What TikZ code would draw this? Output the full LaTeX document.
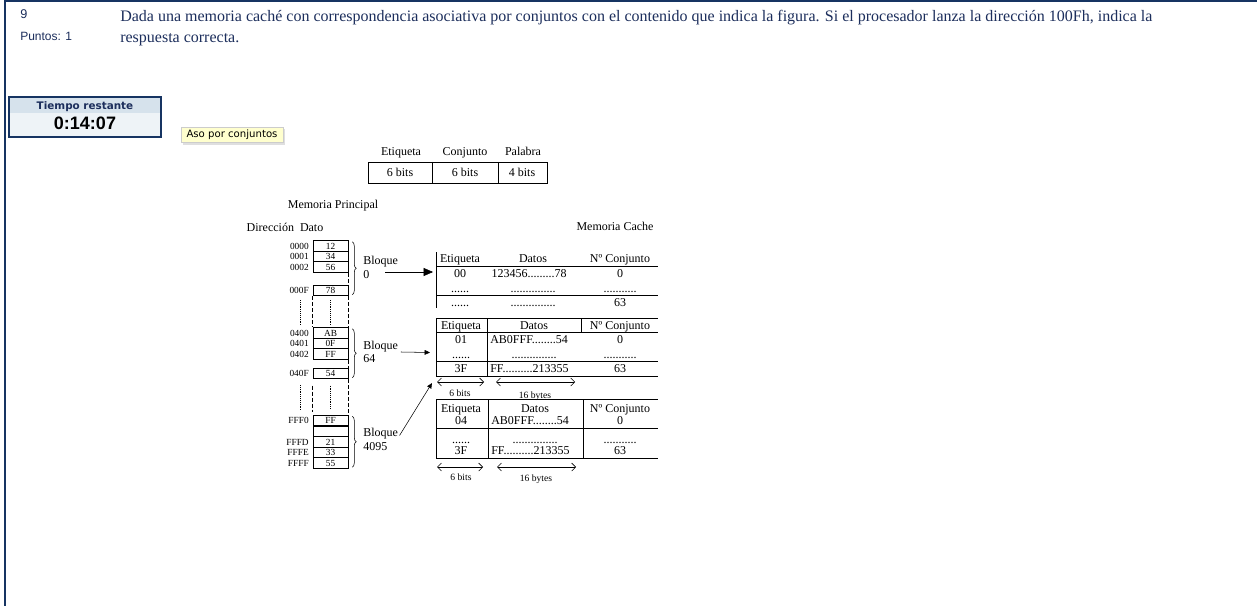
\documentclass[tikz,border=0pt]{standalone}
\usepackage{fontspec}
\setmainfont{Liberation Serif}
\newfontfamily\arialfont{Liberation Sans}
\newfontfamily\verdanafont{DejaVu Sans}
\usetikzlibrary{arrows.meta,decorations.pathreplacing,shadows}
\definecolor{framenavy}{RGB}{22,52,98}
\definecolor{textnavy}{RGB}{28,46,92}
\definecolor{timertop}{RGB}{214,226,236}
\definecolor{timerbot}{RGB}{238,243,247}
\definecolor{tipyellow}{RGB}{255,255,206}
\tikzset{
  diag/.style={inner sep=0pt,text height=7.6pt,text depth=0.2pt,font=\fontsize{9}{10.5}\selectfont},
  tinytxt/.style={inner sep=0pt,text height=6pt,text depth=1pt,font=\fontsize{7.2}{8}\selectfont},
  addr/.style={inner sep=0pt,anchor=east,text height=4.8pt,text depth=0pt,font=\fontsize{7}{8}\selectfont},
  memcell/.style={draw,inner sep=0pt,minimum width=26.25pt,minimum height=7.875pt,text height=4.8pt,text depth=0pt,font=\fontsize{7}{8}\selectfont},
  blocklbl/.style={inner sep=0pt,font=\fontsize{9}{10}\selectfont,anchor=west,align=left},
  gapdash/.style={dash pattern=on 3pt off 1.5pt},
  gapdot/.style={densely dotted},
  widtharrow/.style={{Straight Barb[length=3pt,width=6pt]}-{Straight Barb[length=3pt,width=6pt]},line width=0.4pt},
}
\begin{document}
\begin{tikzpicture}[x=0.75pt,y=-0.75pt]
\fill[white] (0,0) rectangle (1257,606);
\useasboundingbox (0,0) rectangle (1257,606);
% page frame
\draw[framenavy,line width=1.1pt] (5,606) -- (5,1) -- (1257,1);
% question header
\node[anchor=base west,inner sep=0pt,text=textnavy,font=\arialfont\fontsize{9.5}{11}\selectfont] (qnum) at (20,19) {9};
\node[anchor=base west,inner sep=0pt,text=textnavy,font=\arialfont\fontsize{9}{11}\selectfont] (qpts) at (20,41) {Puntos: 1};
\node[anchor=base west,inner sep=0pt,text=textnavy,font=\fontsize{12}{15}\selectfont] (qline1) at (120,22) {Dada una memoria caché con correspondencia asociativa por conjuntos con el contenido que indica la figura. Si el procesador lanza la dirección 100Fh, indica la};
\node[anchor=base west,inner sep=0pt,text=textnavy,font=\fontsize{12}{15}\selectfont] (qline2) at (120,43) {respuesta correcta.};
% timer
\fill[timerbot] (9,97) rectangle (161,137);
\fill[timertop] (9,97) rectangle (161,113);
\draw[framenavy,line width=0.9pt] (9,97) rectangle (161,137);
\node[inner sep=0pt,text=textnavy,font=\verdanafont\bfseries\fontsize{7.8}{9}\selectfont] (tlabel) at (85,106.5) {Tiempo restante};
\node[inner sep=0pt,font=\arialfont\bfseries\fontsize{13.5}{15}\selectfont] (tclock) at (85,123.5) {0:14:07};
% tooltip
\node[draw=black!20,fill=tipyellow,inner sep=0pt,minimum width=76.5pt,minimum height=11.5pt,
  drop shadow={shadow xshift=1.5pt,shadow yshift=-1.5pt,opacity=0.25},
  font=\verdanafont\fontsize{7.6}{9}\selectfont] (tip) at (232,135) {Aso por conjuntos};
% address format
\node[diag] (fetq) at (401,151) {Etiqueta};
\node[diag] (fcon) at (465,151) {Conjunto};
\node[diag] (fpal) at (523,151) {Palabra};
\draw (368,162) rectangle (547,183);
\draw (432,162) -- (432,183);
\draw (498,162) -- (498,183);
\node[diag] (fv1) at (400,172) {6 bits};
\node[diag] (fv2) at (465,172) {6 bits};
\node[diag] (fv3) at (522,172) {4 bits};
% main memory
\node[diag] (mptitle) at (333,204) {Memoria Principal};
\node[diag] (mphead) at (285,227) {Dirección\ \ Dato};
\node[diag] (mctitle) at (615,226) {Memoria Cache};
\foreach \y/\a/\v [count=\i] in {246/0000/12,256.5/0001/34,267/0002/56,290.5/000F/78,
  333/0400/AB,343.5/0401/0F,354/0402/FF,373.5/040F/54,
  420.5/FFF0/FF,431.5/{}/{},442/FFFD/21,452.5/FFFE/33,463/FFFF/55}{
  \node[memcell] (m\i) at (330.5,\y) {\v};
  \node[addr] (a\i) at (309,\y) {\a};
}
\draw[gapdash] (m3.south east) -- (m4.north east);
\draw[gapdash] (m7.south east) -- (m8.north east);
\draw[gapdash] (m4.south east) -- (m5.north east);
\draw[gapdash] (m4.south west) -- (m5.north west);
\draw[gapdash] (m8.south east) -- (m9.north east);
\draw[gapdash] ([yshift=-5pt]m8.south west) -- ([yshift=2pt]m9.north west);
\draw[gapdot] ([yshift=-3pt]m4.south) -- ([yshift=2pt]m5.north);
\draw[gapdot] ([yshift=-5pt]m8.south) -- ([yshift=4pt]m9.north);
\draw[gapdot] (300,300) -- (300,325);
\draw[gapdot] (300,385) -- (300,410);
% blocks
\draw[decorate,decoration={brace,amplitude=3pt}] ([xshift=3pt,yshift=-1pt]m1.north east) -- ([xshift=3pt,yshift=1pt]m4.south east);
\draw[decorate,decoration={brace,amplitude=3pt}] ([xshift=3pt,yshift=-1pt]m5.north east) -- ([xshift=3pt,yshift=1pt]m8.south east);
\draw[decorate,decoration={brace,amplitude=3pt}] ([xshift=3pt,yshift=-1pt]m9.north east) -- ([xshift=3pt,yshift=1pt]m13.south east);
\node[blocklbl] (blk0) at (363,267.5) {Bloque\\0};
\node[blocklbl] (blk64) at (363,352) {Bloque\\64};
\node[blocklbl] (blk4095) at (363,439.5) {Bloque\\4095};
\coordinate (from0) at (385,272);
\coordinate (in0) at (433,272);
\coordinate (in64) at (430,352.5);
\coordinate (in4095) at (432,383);
\draw[-{Triangle[length=7pt,width=6pt]}] (from0) -- (in0);
\draw[-{Triangle[length=4pt,width=3.5pt]}] ([xshift=2pt]blk64.east) -- (in64);
\draw[-{Triangle[length=4pt,width=3.5pt]}] ([xshift=1pt,yshift=3pt]blk4095.east) -- (in4095);
% cache, first set table
\draw (436,252) -- (436,308);
\draw (436,266) -- (658,266);
\draw (436,295) -- (658,295);
\node[diag] (c1etq) at (460,258) {Etiqueta};
\node[diag] (c1dat) at (533,258) {Datos};
\node[diag] (c1con) at (620,258) {Nº Conjunto};
\node[diag] (c1e1) at (460,273) {00};
\node[diag] (c1d1) at (529,273) {123456.........78};
\node[diag] (c1n1) at (620,273) {0};
\node[diag] (c1e2) at (460,288) {......};
\node[diag] (c1d2) at (533,288) {...............};
\node[diag] (c1n2) at (620,288) {...........};
\node[diag] (c1e3) at (460,302) {......};
\node[diag] (c1d3) at (533,302) {...............};
\node[diag] (c1n3) at (620,302) {63};
% cache, second set table
\draw (436,318) -- (658,318);
\draw (436,332) -- (658,332);
\draw (436,361) -- (658,361);
\draw (436,376) -- (658,376);
\draw (436,318) -- (436,376);
\draw (487,318) -- (487,376);
\draw (581,318) -- (581,332);
\node[diag] (c2etq) at (461,325) {Etiqueta};
\node[diag] (c2dat) at (534,325) {Datos};
\node[diag] (c2con) at (620,325) {Nº Conjunto};
\node[diag] (c2e1) at (461,339) {01};
\node[diag,anchor=west] (c2d1) at (490,339) {AB0FFF........54};
\node[diag] (c2n1) at (620,339) {0};
\node[diag] (c2e2) at (461,354) {......};
\node[diag] (c2d2) at (534,354) {...............};
\node[diag] (c2n2) at (620,354) {...........};
\node[diag] (c2e3) at (461,368) {3F};
\node[diag,anchor=west] (c2d3) at (490,368) {FF..........213355};
\node[diag] (c2n3) at (620,368) {63};
\coordinate (w2a) at (437,382);
\coordinate (w2b) at (484,382);
\coordinate (w2c) at (496,382);
\coordinate (w2d) at (575,382);
\draw[widtharrow] (w2a) -- (w2b);
\draw[widtharrow] (w2c) -- (w2d);
\node[tinytxt] (c2wbits) at (460,393) {6 bits};
\node[tinytxt] (c2wbytes) at (535,395) {16 bytes};
% cache, third set table
\draw (436,399) -- (658,399);
\draw (436,428) -- (658,428);
\draw (436,458) -- (658,458);
\draw (436,399) -- (436,458);
\draw (488,399) -- (488,458);
\draw (583,399) -- (583,458);
\node[diag] (c3etq) at (461,408) {Etiqueta};
\node[diag] (c3dat) at (535,408) {Datos};
\node[diag] (c3con) at (620,408) {Nº Conjunto};
\node[diag] (c3e1) at (461,420) {04};
\node[diag,anchor=west] (c3d1) at (491,420) {AB0FFF........54};
\node[diag] (c3n1) at (620,420) {0};
\node[diag] (c3e2) at (461,439) {......};
\node[diag] (c3d2) at (535,439) {...............};
\node[diag] (c3n2) at (620,439) {...........};
\node[diag] (c3e3) at (461,450) {3F};
\node[diag,anchor=west] (c3d3) at (491,450) {FF..........213355};
\node[diag] (c3n3) at (620,450) {63};
\coordinate (w3a) at (437,467);
\coordinate (w3b) at (483,467);
\coordinate (w3c) at (497,467);
\coordinate (w3d) at (576,467);
\draw[widtharrow] (w3a) -- (w3b);
\draw[widtharrow] (w3c) -- (w3d);
\node[tinytxt] (c3wbits) at (461,477) {6 bits};
\node[tinytxt] (c3wbytes) at (536,478) {16 bytes};
\end{tikzpicture}
\end{document}
